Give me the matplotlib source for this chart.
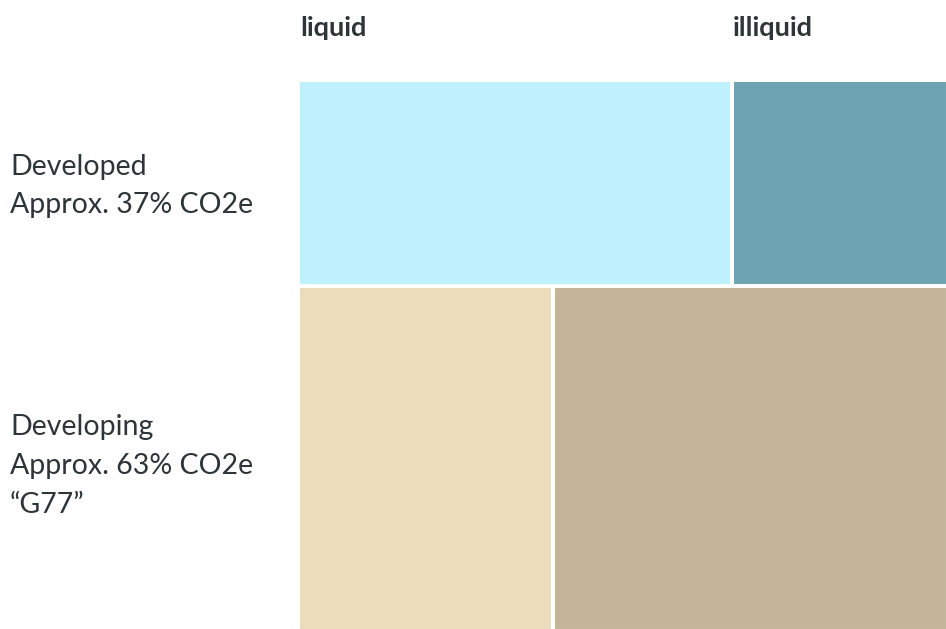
import matplotlib.pyplot as plt
import numpy as np

# Data
groups = ["Developed", "Developing"]
group_labels = [["Developed", "Approx. 37% CO2e"],
                ["Developing", "Approx. 63% CO2e", "\u201cG77\u201d"]]
group_share = [37.3, 62.7]        # % of CO2e (row heights)
liquid_share = [66.7, 39.3]       # % liquid within each group (column widths)
columns = ["liquid", "illiquid"]
colors = [["#BEF0FD", "#6DA3B2"],
          ["#EBDCBC", "#C4B599"]]

W, H = 946, 629
fig = plt.figure(figsize=(W / 100, H / 100), dpi=100)
plt.rcParams['font.family'] = ['Lato', 'DejaVu Sans']

pad = 2
left_px, right_px, top_px, bottom_px = 300 - pad, 946 + pad, 82 - pad, 629 + pad
ax = fig.add_axes([left_px / W, 1 - bottom_px / H, (right_px - left_px) / W, (bottom_px - top_px) / H])
ax.set_xlim(0, 100)
ax.set_ylim(100, 0)
ax.axis('off')

bottoms = np.concatenate([[0], np.cumsum(group_share)[:-1]])
for i in range(len(groups)):
    ls = liquid_share[i]
    ax.barh(bottoms[i], ls, height=group_share[i], left=0, align='edge',
            color=colors[i][0], edgecolor='white', linewidth=2.9)
    ax.barh(bottoms[i], 100 - ls, height=group_share[i], left=ls, align='edge',
            color=colors[i][1], edgecolor='white', linewidth=2.9)

txt = "#2E3538"
# Column headers
fig.text(300 / W, 1 - 36 / H, columns[0], fontsize=19.5, fontweight='bold', color=txt, va='baseline', ha='left')
fig.text(733 / W, 1 - 36 / H, columns[1], fontsize=19.5, fontweight='bold', color=txt, va='baseline', ha='left')

# Row labels
baselines = [[175, 213], [435, 474, 513]]
for lines, bls in zip(group_labels, baselines):
    for line, b in zip(lines, bls):
        fig.text(10 / W, 1 - b / H, line, fontsize=20.5, color=txt, va='baseline', ha='left')

fig.savefig("out.png", dpi=100)
